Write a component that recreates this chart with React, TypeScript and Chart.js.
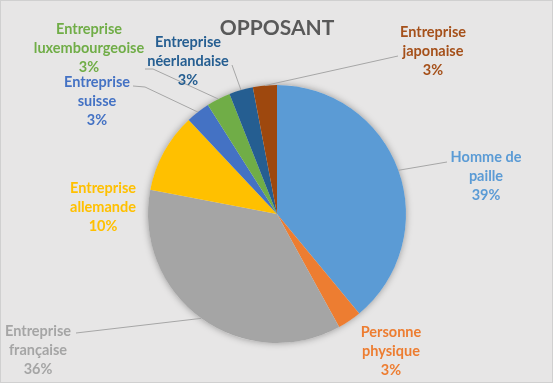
import React, { useEffect, useRef } from "react";
import { Chart, registerables } from "chart.js";

Chart.register(...registerables);

// ---- data ----
const title = "OPPOSANT";
const categories = [
  "Homme de paille",
  "Personne physique",
  "Entreprise française",
  "Entreprise allemande",
  "Entreprise suisse",
  "Entreprise luxembourgeoise",
  "Entreprise néerlandaise",
  "Entreprise japonaise",
];
const values = [39, 3, 36, 10, 3, 3, 3, 3];
const labelLines = [
  ["Homme de", "paille"],
  ["Personne", "physique"],
  ["Entreprise", "française"],
  ["Entreprise", "allemande"],
  ["Entreprise", "suisse"],
  ["Entreprise", "luxembourgeoise"],
  ["Entreprise", "néerlandaise"],
  ["Entreprise", "japonaise"],
];

// ---- styles / layout ----
const colors = ["#5B9BD5", "#ED7D31", "#A5A5A5", "#FFC000", "#4472C4", "#70AD47", "#255E91", "#9E480E"];
const labelColors = ["#5B9BD5", "#ED7D31", "#A5A5A5", "#FFC000", "#4472C4", "#70AD47", "#255E91", "#A5501A"];
const labelPos = [
  [486, 157],
  [391, 332],
  [38, 331],
  [103, 188],
  [97, 82],
  [89, 29],
  [188, 42],
  [433, 32],
];
const leaderStarts: number[][][] = [
  [[447, 162]],
  [],
  [[76, 333]],
  [],
  [[133, 86], [145, 87]],
  [[145, 69], [153, 69]],
  [[232, 65]],
  [[398, 56]],
];
const BG = "#E7E6E6";
const FONT = "Lato, 'Open Sans', sans-serif";

const labelPlugin = {
  id: "excelLabels",
  beforeDatasetsDraw(chart: any) {
    const meta = chart.getDatasetMeta(0);
    const a = meta.data[0];
    if (!a) return;
    const { x, y, outerRadius } = a.getProps(["x", "y", "outerRadius"], true);
    const ctx = chart.ctx;
    ctx.save();
    ctx.shadowColor = "rgba(0,0,0,0.35)";
    ctx.shadowBlur = 7;
    ctx.shadowOffsetX = 0;
    ctx.shadowOffsetY = 0;
    ctx.fillStyle = BG;
    ctx.beginPath();
    ctx.arc(x, y, outerRadius, 0, Math.PI * 2);
    ctx.fill();
    ctx.restore();
  },
  afterDatasetsDraw(chart: any) {
    const ctx = chart.ctx;
    const meta = chart.getDatasetMeta(0);
    const total = values.reduce((s, v) => s + v, 0);
    ctx.save();
    // title
    ctx.fillStyle = "#595959";
    ctx.font = `bold 21px ${FONT}`;
    ctx.textAlign = "center";
    ctx.textBaseline = "middle";
    ctx.fillText(title, 277, 28);

    meta.data.forEach((arc: any, i: number) => {
      const p = arc.getProps(["x", "y", "startAngle", "endAngle", "outerRadius"], true);
      const mid = (p.startAngle + p.endAngle) / 2;
      const ex = p.x + Math.cos(mid) * p.outerRadius;
      const ey = p.y + Math.sin(mid) * p.outerRadius;
      const pts = leaderStarts[i];
      if (pts.length) {
        ctx.strokeStyle = "#A6A6A6";
        ctx.lineWidth = 1;
        ctx.beginPath();
        ctx.moveTo(pts[0][0], pts[0][1]);
        for (let k = 1; k < pts.length; k++) ctx.lineTo(pts[k][0], pts[k][1]);
        ctx.lineTo(ex, ey);
        ctx.stroke();
      }
      const lines = [...labelLines[i], Math.round((values[i] / total) * 100) + "%"];
      ctx.fillStyle = labelColors[i];
      ctx.font = `bold 14.5px ${FONT}`;
      ctx.textAlign = "center";
      ctx.textBaseline = "middle";
      lines.forEach((t, k) => {
        ctx.fillText(t, labelPos[i][0], labelPos[i][1] + k * 19);
      });
    });
    // frame
    ctx.strokeStyle = "#D0D0D0";
    ctx.lineWidth = 1;
    ctx.strokeRect(0.5, 0.5, chart.width - 1, chart.height - 1);
    ctx.restore();
  },
};

export default function App() {
  const ref = useRef<HTMLCanvasElement | null>(null);
  useEffect(() => {
    document.body.style.margin = "0";
    if (!ref.current) return;
    const chart = new Chart(ref.current, {
      type: "pie",
      data: {
        labels: categories,
        datasets: [
          {
            data: values,
            backgroundColor: colors,
            borderWidth: 0,
          },
        ],
      },
      options: {
        responsive: false,
        animation: false,
        devicePixelRatio: 1,
        layout: { padding: { left: 148, right: 147, top: 85, bottom: 40 } },
        plugins: {
          legend: { display: false },
          title: { display: false },
          tooltip: { enabled: false },
        },
      },
      plugins: [labelPlugin],
    });
    return () => chart.destroy();
  }, []);
  return (
    <div style={{ width: 553, height: 383, background: BG }}>
      <canvas ref={ref} width={553} height={383} style={{ display: "block" }} />
    </div>
  );
}
